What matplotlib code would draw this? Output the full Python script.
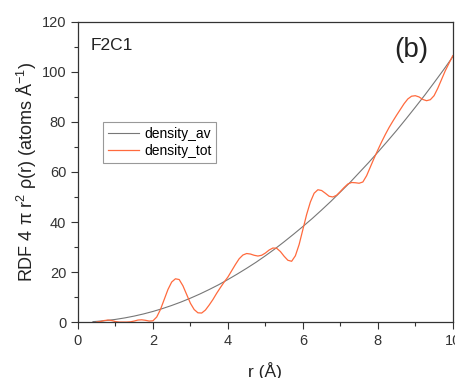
import matplotlib
matplotlib.use("Agg")
import matplotlib.pyplot as plt
from matplotlib.ticker import MultipleLocator

plt.rcParams['font.family'] = ['Liberation Sans', 'DejaVu Sans']
plt.rcParams['mathtext.fontset'] = 'custom'
plt.rcParams['mathtext.rm'] = 'Liberation Sans'
plt.rcParams['mathtext.it'] = 'Liberation Sans'

# density_av (average density curve)
r_av = [0.4, 0.5, 0.75, 1.0, 1.25, 1.5, 1.75, 2.0, 2.25, 2.5, 2.75, 3.0, 3.25, 3.5,
        3.75, 4.0, 4.25, 4.5, 4.75, 5.0, 5.25, 5.5, 5.75, 6.0, 6.25, 6.5, 6.75,
        7.0, 7.25, 7.5, 7.75, 8.0, 8.25, 8.5, 8.75, 9.0, 9.25, 9.5, 9.75, 10.0]
v_av = [0.17, 0.27, 0.60, 1.06, 1.66, 2.39, 3.25, 4.24, 5.37, 6.63, 8.02, 9.55, 11.2, 13.0,
        14.9, 17.0, 19.2, 21.5, 23.9, 26.5, 29.2, 32.1, 35.1, 38.2, 41.4, 44.8, 48.3,
        52.0, 55.7, 59.7, 63.7, 67.9, 72.2, 76.6, 81.2, 85.9, 90.7, 95.7, 100.8, 106.1]

# density_tot
r_tot = [0.5, 0.6, 0.7, 0.8, 0.9, 1.0, 1.1, 1.2, 1.3, 1.4, 1.5, 1.6, 1.7, 1.8, 1.9,
         2.0, 2.1, 2.2, 2.3, 2.4, 2.5, 2.6, 2.7, 2.8, 2.9, 3.0, 3.1, 3.2, 3.3, 3.4,
         3.5, 3.6, 3.7, 3.8, 3.9, 4.0, 4.1, 4.2, 4.3, 4.4, 4.5, 4.6, 4.7, 4.8, 4.9,
         5.0, 5.1, 5.2, 5.3, 5.4, 5.5, 5.6, 5.7, 5.8, 5.9, 6.0, 6.1, 6.2, 6.3, 6.4,
         6.5, 6.6, 6.7, 6.8, 6.9, 7.0, 7.1, 7.2, 7.3, 7.4, 7.5, 7.6, 7.7, 7.8, 7.9,
         8.0, 8.1, 8.2, 8.3, 8.4, 8.5, 8.6, 8.7, 8.8, 8.9, 9.0, 9.1, 9.2, 9.3, 9.4,
         9.5, 9.6, 9.7, 9.8, 9.9, 10.0]
v_tot = [0.0, 0.2, 0.6, 0.8, 0.6, 0.2, 0.0, 0.0, 0.0, 0.1, 0.4, 0.8, 0.9, 0.7, 0.4,
         0.5, 2.0, 5.0, 9.0, 13.0, 16.0, 17.3, 17.0, 14.5, 11.0, 7.5, 5.0, 3.7, 3.6, 4.8,
         6.8, 9.0, 11.5, 13.8, 16.0, 18.0, 20.5, 23.0, 25.3, 26.8, 27.4, 27.2, 26.7, 26.4, 26.7,
         27.6, 28.8, 29.6, 29.5, 28.2, 26.3, 24.7, 24.3, 26.5, 31.0, 37.0, 43.0, 48.0, 51.5, 52.9,
         52.6, 51.5, 50.3, 50.0, 50.7, 52.2, 53.8, 55.2, 55.8, 55.7, 55.5, 56.0, 58.5, 62.0, 65.5,
         68.8, 72.0, 75.0, 77.8, 80.3, 82.7, 85.0, 87.3, 89.2, 90.3, 90.5, 90.0, 89.0, 88.5, 88.9,
         90.5, 93.5, 97.0, 100.5, 103.5, 106.5]

fig = plt.figure(figsize=(4.56, 3.78), dpi=100)
ax = fig.add_axes([0.171, 0.148, 0.822, 0.794])

ax.plot(r_av, v_av, color='#777777', lw=0.8, label='density_av')
ax.plot(r_tot, v_tot, color='#ff6a3d', lw=0.9, label='density_tot')

ax.set_xlim(0, 10)
ax.set_ylim(0, 120)
ax.xaxis.set_major_locator(MultipleLocator(2))
ax.xaxis.set_minor_locator(MultipleLocator(1))
ax.yaxis.set_major_locator(MultipleLocator(20))
ax.yaxis.set_minor_locator(MultipleLocator(10))
ax.tick_params(which='major', direction='out', length=5, width=0.8, colors='#333333',
               labelsize=10.5, top=False, right=False)
ax.tick_params(which='minor', direction='out', length=3, width=0.8, colors='#333333',
               top=False, right=False)
for s in ax.spines.values():
    s.set_color('#333333')
    s.set_linewidth(0.9)

ax.set_xlabel('r (Å)', fontsize=12.5, color='#222222', labelpad=10)
ax.set_ylabel('RDF 4 π r$^2$ ρ(r) (atoms Å$^{-1}$)', fontsize=13, color='#222222', labelpad=2)

ax.text(0.035, 0.945, 'F2C1', transform=ax.transAxes, fontsize=12.5, va='top', ha='left',
        color='#222222')
ax.text(0.845, 0.908, '(b)', transform=ax.transAxes, fontsize=20, va='center', ha='left',
        color='#222222')

leg = ax.legend(loc='upper left', bbox_to_anchor=(0.067, 0.665), fontsize=10,
                frameon=True, fancybox=False, edgecolor='#999999', framealpha=1,
                handlelength=2.2, handletextpad=0.4, borderpad=0.35, labelspacing=0.2,
                borderaxespad=0)
leg.get_frame().set_linewidth(0.8)

fig.savefig('out.png', dpi=100)
